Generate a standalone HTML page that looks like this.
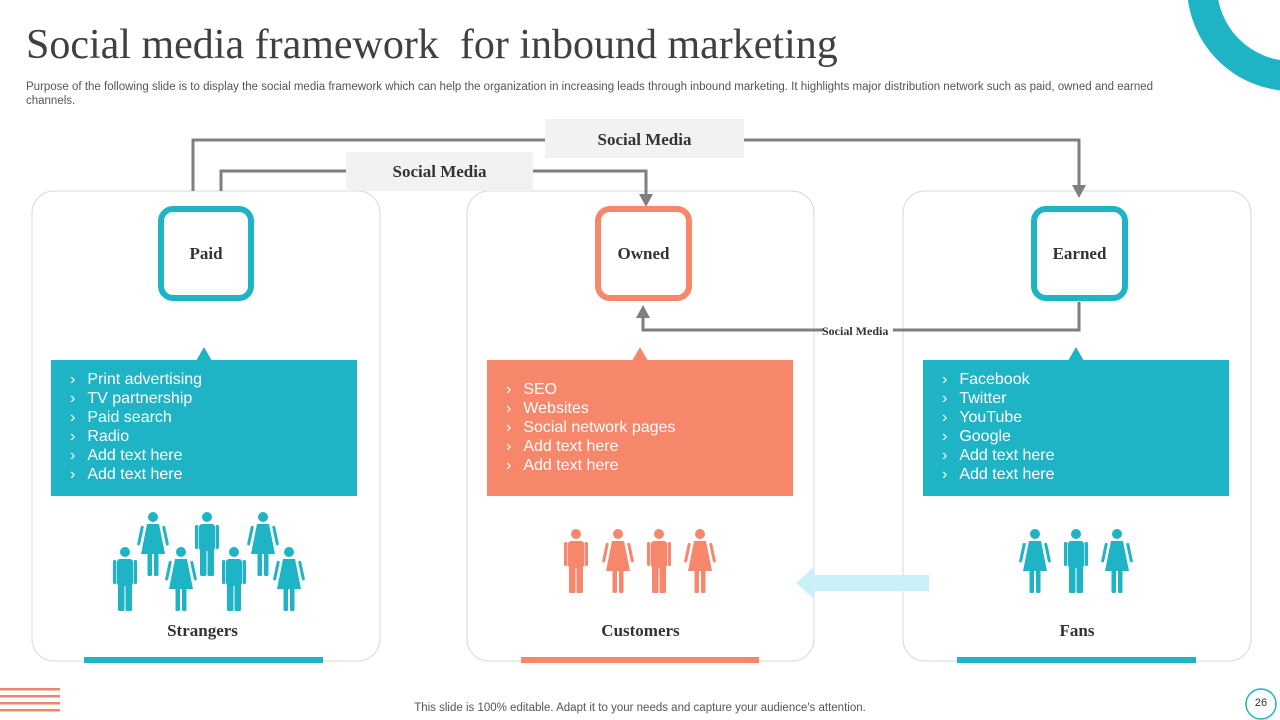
<!DOCTYPE html>
<html><head><meta charset="utf-8"><style>
body{margin:0;width:1280px;height:720px;overflow:hidden;background:#fff;font-family:"Liberation Sans",sans-serif;position:relative}
.a{position:absolute}
.t{font-family:"Liberation Serif",serif;font-weight:bold;color:#333}
ul{list-style:none;margin:0;padding:0}
li{font-size:16px;color:#fff;line-height:19px}
li:before{content:"›";margin-right:12px}
</style></head><body>
<svg class="a" style="left:0;top:0" width="1280" height="720">
<defs>
<g id="man"><circle cx="12" cy="5" r="5"/><rect x="4" y="12" width="16" height="27" rx="3"/><rect x="0" y="13" width="3.4" height="24" rx="1.5"/><rect x="20.6" y="13" width="3.4" height="24" rx="1.5"/><rect x="5" y="36" width="6.5" height="28" rx="1.5"/><rect x="12.5" y="36" width="6.5" height="28" rx="1.5"/></g>
<g id="wom"><circle cx="12" cy="5" r="5"/><path d="M6 12 H18 L24 42 H0 Z"/><rect x="0" y="14" width="3" height="20" rx="1.5" transform="rotate(12 2 14)"/><rect x="21" y="14" width="3" height="20" rx="1.5" transform="rotate(-12 22 14)"/><rect x="6.5" y="40" width="4.5" height="24" rx="1.5"/><rect x="13" y="40" width="4.5" height="24" rx="1.5"/></g>
</defs>
<circle cx="1292" cy="-14" r="90" fill="none" stroke="#1fb3c6" stroke-width="30"/>
<g fill="#e8876a"><rect x="0" y="688" width="60" height="2.5"/><rect x="0" y="695" width="60" height="2.5"/><rect x="0" y="702" width="60" height="2.5"/><rect x="0" y="709" width="60" height="2.5"/></g>
<circle cx="1261" cy="704" r="15" fill="#fff" stroke="#1fb3c6" stroke-width="1.5"/>
<rect x="32" y="191" width="348" height="470" rx="22" fill="#fff" stroke="#d8d8d8"/>
<rect x="467" y="191" width="347" height="470" rx="22" fill="#fff" stroke="#d8d8d8"/>
<rect x="903" y="191" width="348" height="470" rx="22" fill="#fff" stroke="#d8d8d8"/>
<g fill="none" stroke="#7f7f7f" stroke-width="3">
<polyline points="193,191 193,140 546,140"/>
<polyline points="744,140 1079,140 1079,186"/>
<polyline points="221,191 221,171 347,171"/>
<polyline points="532,171 646,171 646,196"/>
<polyline points="1079,302 1079,330 893,330"/>
<polyline points="823,330 643,330 643,316"/>
</g>
<g fill="#7f7f7f"><path d="M1072 185 L1086 185 L1079 198Z"/><path d="M639 194 L653 194 L646 207Z"/><path d="M636 318 L650 318 L643 305Z"/></g>
<rect x="545" y="119" width="199" height="39" fill="#f2f2f2"/>
<rect x="346" y="152" width="187" height="39" fill="#f2f2f2"/>
<rect x="161" y="209" width="90" height="89" rx="12" fill="#fff" stroke="#1fb3c6" stroke-width="6"/>
<rect x="598" y="209" width="91" height="89" rx="12" fill="#fff" stroke="#f7876a" stroke-width="6"/>
<rect x="1034" y="209" width="91" height="89" rx="12" fill="#fff" stroke="#1fb3c6" stroke-width="6"/>
<rect x="51" y="360" width="306" height="136" fill="#1fb3c6"/><path d="M196 361 L204 347 L212 361Z" fill="#1fb3c6"/>
<rect x="487" y="360" width="306" height="136" fill="#f7876a"/><path d="M632 361 L640 347 L648 361Z" fill="#f7876a"/>
<rect x="923" y="360" width="306" height="136" fill="#1fb3c6"/><path d="M1068 361 L1076 347 L1084 361Z" fill="#1fb3c6"/>
<rect x="84" y="657" width="239" height="6" fill="#1fb3c6"/>
<rect x="521" y="657" width="238" height="6" fill="#f7876a"/>
<rect x="957" y="657" width="239" height="6" fill="#1fb3c6"/>
<rect x="813" y="575" width="116" height="16" fill="#ccf0f8"/><path d="M814 567 L796 583 L814 599Z" fill="#ccf0f8"/>
<g fill="#1fb3c6">
<use href="#wom" x="141" y="512"/><use href="#man" x="195" y="512"/><use href="#wom" x="251" y="512"/>
<use href="#man" x="113" y="547"/><use href="#wom" x="169" y="547"/><use href="#man" x="222" y="547"/><use href="#wom" x="277" y="547"/>
<use href="#wom" x="1023" y="529"/><use href="#man" x="1064" y="529"/><use href="#wom" x="1105" y="529"/>
</g>
<g fill="#f7876a"><use href="#man" x="564" y="529"/><use href="#wom" x="606" y="529"/><use href="#man" x="647" y="529"/><use href="#wom" x="688" y="529"/></g>
</svg>
<div class="a" style="left:26px;top:21px;font-family:'Liberation Serif',serif;font-size:42px;color:#404040;white-space:nowrap">Social media framework &nbsp;for inbound marketing</div>
<div class="a" style="left:26px;top:80px;width:1145px;font-size:11.5px;color:#555;line-height:14px">Purpose of the following slide is to display the social media framework which can help the organization in increasing leads through inbound marketing. It highlights major distribution network such as paid, owned and earned channels.</div>
<div class="a t" style="left:545px;top:130px;width:199px;text-align:center;font-size:17px">Social Media</div>
<div class="a t" style="left:346px;top:162px;width:187px;text-align:center;font-size:17px">Social Media</div>
<div class="a t" style="left:822px;top:324px;font-size:12px">Social Media</div>
<div class="a t" style="left:161px;top:244px;width:90px;text-align:center;font-size:17px">Paid</div>
<div class="a t" style="left:598px;top:244px;width:91px;text-align:center;font-size:17px">Owned</div>
<div class="a t" style="left:1034px;top:244px;width:91px;text-align:center;font-size:17px">Earned</div>
<ul class="a" style="left:70px;top:370px"><li>Print advertising</li><li>TV partnership</li><li>Paid search</li><li>Radio</li><li>Add text here</li><li>Add text here</li></ul>
<ul class="a" style="left:506px;top:380px"><li>SEO</li><li>Websites</li><li>Social network pages</li><li>Add text here</li><li>Add text here</li></ul>
<ul class="a" style="left:942px;top:370px"><li>Facebook</li><li>Twitter</li><li>YouTube</li><li>Google</li><li>Add text here</li><li>Add text here</li></ul>
<div class="a t" style="left:32px;top:621px;width:341px;text-align:center;font-size:17px">Strangers</div>
<div class="a t" style="left:467px;top:621px;width:347px;text-align:center;font-size:17px">Customers</div>
<div class="a t" style="left:903px;top:621px;width:348px;text-align:center;font-size:17px">Fans</div>
<div class="a" style="left:0;top:702px;width:1280px;text-align:center;font-size:11.5px;color:#555">This slide is 100% editable. Adapt it to your needs and capture your audience's attention.</div>
<div class="a" style="left:1246px;top:697px;width:30px;text-align:center;font-size:11px;color:#333">26</div>
</body></html>
